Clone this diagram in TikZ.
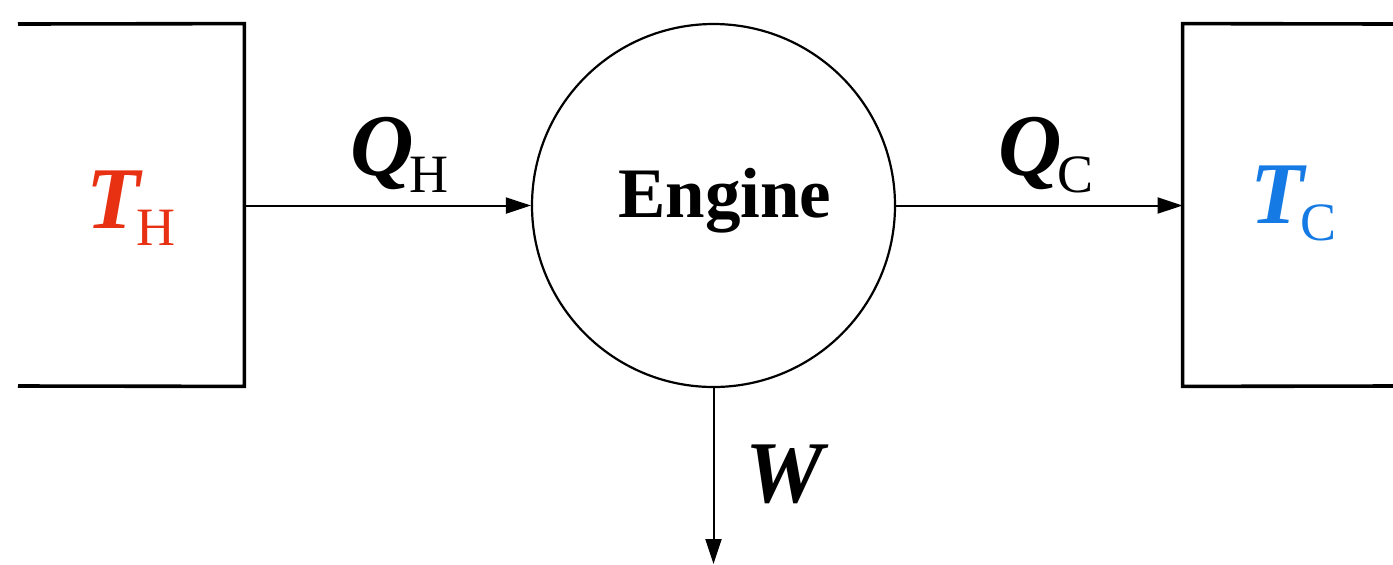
\documentclass[tikz,border=0pt]{standalone}
\usepackage{fontspec}
\setmainfont{Liberation Serif}
\usetikzlibrary{arrows.meta}
\definecolor{hotred}{RGB}{232,48,18}
\definecolor{coldblue}{RGB}{22,122,228}
\newcommand\symb[3]{{\color{#3}{\fontsize{44}{44}\selectfont\bfseries\itshape #1}\kern-2pt\raisebox{-8.5pt}{\fontsize{27}{27}\selectfont #2}}}
\tikzset{
  reservoir/.style={minimum width=113pt,minimum height=181pt,inner sep=0pt},
  reservoirline/.style={line width=1.8pt},
  enginebox/.style={circle,draw,line width=1.1pt,minimum size=181.5pt,inner sep=0pt},
  flow/.style={line width=1pt,-{Triangle[length=12.5pt,width=8pt]}},
  lbl/.style={inner sep=0pt,anchor=base west}
}
\begin{document}
\begin{tikzpicture}[x=0.5pt,y=-0.5pt]
\useasboundingbox (0,0) rectangle (1393,564);
\node[reservoir] (hot) at (131,205) {};
\node[reservoir,minimum width=105pt] (cold) at (1288,205) {};
\draw[reservoirline] (18,24) -- (hot.north east) -- (hot.south east) -- (18,386);
\draw[reservoirline] (1393,24) -- (cold.north west) -- (cold.south west) -- (1393,386);
\node[enginebox] (eng) at (713.5,205.5) {};
\node[lbl] (englbl) at (618,217) {\fontsize{35.5}{35.5}\selectfont\bfseries Engine};
\coordinate (wend) at (713.5,564);
\draw[flow] (hot.east |- eng.west) -- (eng.west);
\draw[flow] (eng.east) -- (cold.west |- eng.east);
\draw[flow] (eng.south) -- (wend);
\node[lbl] (th) at (86,228) {\symb{T}{H}{hotred}};
\node[lbl] (tc) at (1250,223) {\symb{T}{C}{coldblue}};
\node[lbl] (qh) at (350,175) {\symb{Q}{H}{black}};
\node[lbl] (qc) at (998,175) {\symb{Q}{C}{black}};
\node[lbl] (w) at (745,502) {\fontsize{44}{44}\selectfont\bfseries\itshape W};
\end{tikzpicture}
\end{document}
